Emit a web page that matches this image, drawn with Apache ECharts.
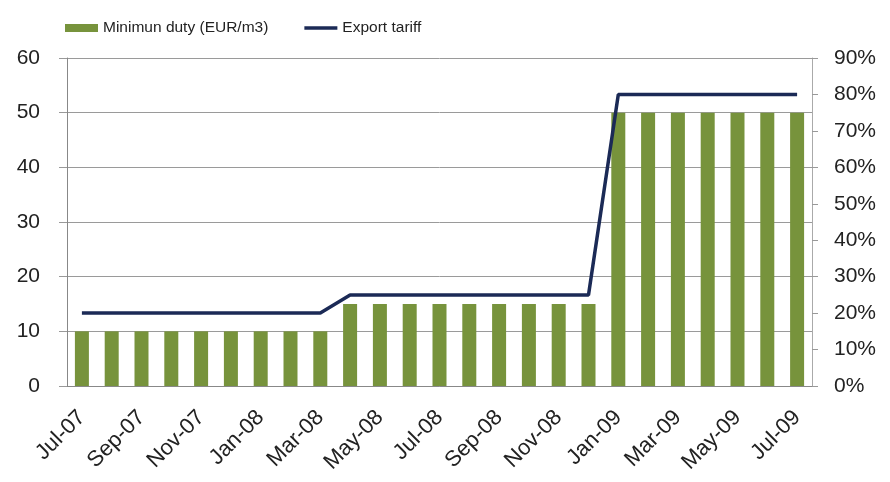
<!DOCTYPE html>
<html><head><meta charset="utf-8">
<script src="https://cdn.jsdelivr.net/npm/echarts@6/dist/echarts.min.js"></script>
<style>html,body{margin:0;padding:0;background:#fff}#c{width:890px;height:482px}</style>
</head><body><div id="c"></div>
<script>
const categories = ['Jul-07','Aug-07','Sep-07','Oct-07','Nov-07','Dec-07','Jan-08','Feb-08','Mar-08','Apr-08','May-08','Jun-08','Jul-08','Aug-08','Sep-08','Oct-08','Nov-08','Dec-08','Jan-09','Feb-09','Mar-09','Apr-09','May-09','Jun-09','Jul-09'];
const minimumDuty = [10,10,10,10,10,10,10,10,10,15,15,15,15,15,15,15,15,15,50,50,50,50,50,50,50];
const exportTariff = [20,20,20,20,20,20,20,20,20,25,25,25,25,25,25,25,25,25,80,80,80,80,80,80,80];
const leftTicks = {min:0,max:60,interval:10};
const rightTicks = {min:0,max:90,interval:10};

const font = 'Liberation Sans, Arial, sans-serif';
const chart = echarts.init(document.getElementById('c'));
chart.setOption({
  animation:false,
  textStyle:{fontFamily:font},
  legend:{
    top:15, left:60, itemGap:36, itemWidth:33, itemHeight:8,
    textStyle:{fontSize:15.5,color:'#222',fontFamily:font},
    data:[{name:'Minimun duty (EUR/m3)',icon:'rect'},{name:'Export tariff',icon:'path://M0,0 L10,0 L10,1 L0,1 Z'}]
  },
  grid:{left:67,right:78,top:58,bottom:96},
  xAxis:{
    type:'category', data:categories, boundaryGap:true,
    axisLine:{lineStyle:{color:'#888'}},
    axisTick:{interval:1,length:5,lineStyle:{color:'#888'}},
    axisLabel:{interval:1,rotate:45,fontSize:22,color:'#222',margin:28,fontFamily:font}
  },
  yAxis:[
    {type:'value',min:leftTicks.min,max:leftTicks.max,interval:leftTicks.interval,
     axisLine:{show:true,lineStyle:{color:'#888'}},axisTick:{show:true,length:8,lineStyle:{color:'#999'}},
     splitLine:{lineStyle:{color:'#9a9a9a'}},
     axisLabel:{fontSize:21,color:'#222',margin:27,fontFamily:font}},
    {type:'value',min:rightTicks.min,max:rightTicks.max,interval:rightTicks.interval,position:'right',
     axisLine:{show:true,lineStyle:{color:'#aaa'}},axisTick:{show:true,length:6,lineStyle:{color:'#999'}},
     splitLine:{show:false},
     axisLabel:{fontSize:21,color:'#222',margin:22,formatter:'{value}%',fontFamily:font}}
  ],
  series:[
    {name:'Minimun duty (EUR/m3)',type:'bar',data:minimumDuty,barWidth:14,yAxisIndex:0,
     itemStyle:{color:'#77933C'}},
    {name:'Export tariff',type:'line',data:exportTariff,yAxisIndex:1,symbol:'none',
     lineStyle:{color:'#1B2A56',width:3.5},itemStyle:{color:'#1B2A56'}}
  ]
});
</script></body></html>
